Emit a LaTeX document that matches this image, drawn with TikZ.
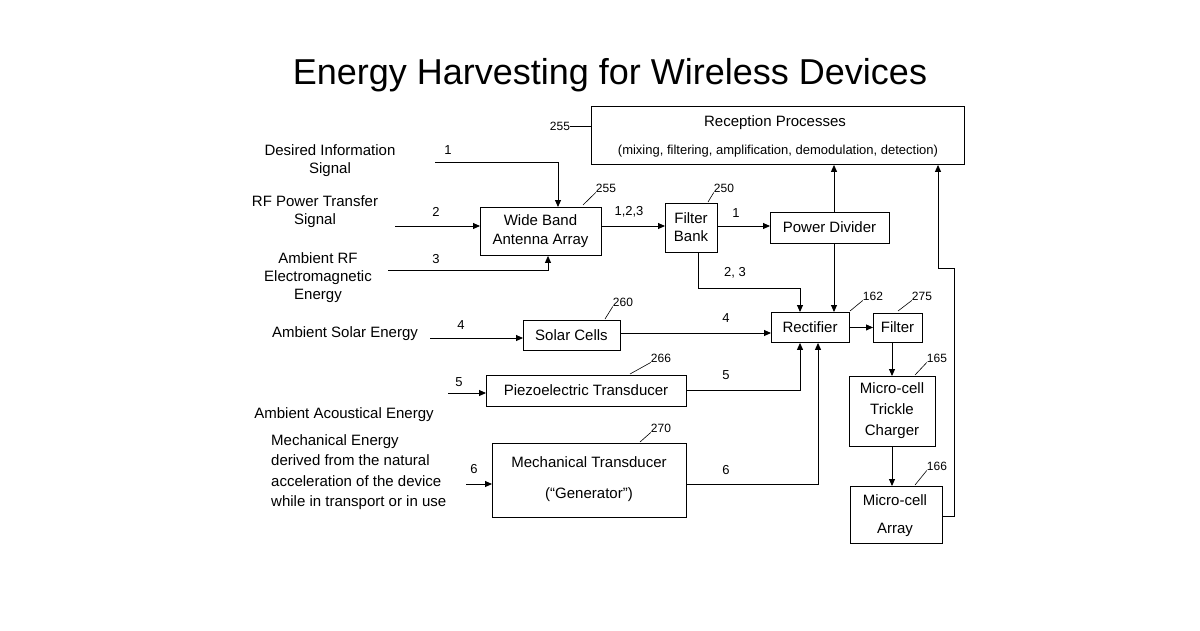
\documentclass[tikz,border=0pt]{standalone}
\usepackage{fontspec}
\setmainfont{Liberation Sans}
\usetikzlibrary{arrows.meta}
\begin{document}
\begin{tikzpicture}[x=1pt,y=-1pt,
  box/.style={draw,line width=0.9pt,inner sep=0pt,anchor=north west},
  lbl/.style={font=\fontsize{15}{18}\selectfont,align=center,inner sep=0pt},
  num/.style={font=\fontsize{13}{15}\selectfont,inner sep=0pt},
  arr/.style={line width=0.9pt,-{Triangle[length=7pt,width=6pt]}},
  ln/.style={line width=0.9pt},
  ld/.style={line width=0.6pt}]
\useasboundingbox (0,0) rectangle (1200,630);
\node[font=\fontsize{36}{40}\selectfont,inner sep=0pt] (title) at (610,75) {Energy Harvesting for Wireless Devices};
% boxes
\node[box,minimum width=373pt,minimum height=58pt] (rec) at (591,106) {};
\node[lbl] at (775,123) {Reception Processes};
\node[font=\fontsize{13}{15}\selectfont,inner sep=0pt] at (778,151) {(mixing, filtering, amplification, demodulation, detection)};
\node[box,minimum width=121pt,minimum height=48pt] (ant) at (480,207) {};
\node[lbl,font=\fontsize{15}{19}\selectfont] at (540.5,231) {Wide Band\\Antenna Array};
\node[box,minimum width=52pt,minimum height=49pt] (fb) at (665,203) {};
\node[lbl] at (691,227.5) {Filter\\Bank};
\node[box,minimum width=119pt,minimum height=31pt] (pd) at (770,212) {};
\node[lbl] at (829.5,227.5) {Power Divider};
\node[box,minimum width=78pt,minimum height=30pt] (rect) at (771,312) {};
\node[lbl] at (810,327) {Rectifier};
\node[box,minimum width=49pt,minimum height=29pt] (flt) at (873,313) {};
\node[lbl] at (897.5,327.5) {Filter};
\node[box,minimum width=86pt,minimum height=70pt] (tc) at (849,376) {};
\node[lbl,font=\fontsize{15}{21}\selectfont] at (892,411) {Micro-cell\\Trickle\\Charger};
\node[box,minimum width=92pt,minimum height=57pt] (ma) at (850,486) {};
\node[lbl] at (895,500) {Micro-cell};
\node[lbl] at (895,530) {Array};
\node[box,minimum width=97pt,minimum height=30pt] (sc) at (523,320) {};
\node[lbl] at (571.5,335) {Solar Cells};
\node[box,minimum width=200pt,minimum height=31pt] (pz) at (486,375) {};
\node[lbl] at (586,390.5) {Piezoelectric Transducer};
\node[box,minimum width=194pt,minimum height=74pt] (mt) at (492,443) {};
\node[lbl] at (589,462) {Mechanical Transducer};
\node[lbl] at (589,495) {(“Generator”)};
% left labels
\node[lbl] (l1) at (330,161) {Desired Information\\Signal};
\node[lbl] (l2) at (315,212) {RF Power Transfer\\Signal};
\node[lbl] (l3) at (318,278) {Ambient RF\\Electromagnetic\\Energy};
\node[lbl] (l4) at (345,334) {Ambient Solar Energy};
\node[lbl] (l5) at (344,415) {Ambient Acoustical Energy};
\node[lbl,align=left,anchor=west,font=\fontsize{15}{20.5}\selectfont] (l6) at (271,472) {Mechanical Energy\\derived from the natural\\acceleration of the device\\while in transport or in use};
% coordinates
\coordinate (s1) at (435,162);
\coordinate (s2) at (395,226);
\coordinate (s3) at (388,270);
\coordinate (s4) at (430,338);
\coordinate (s5) at (448,393);
\coordinate (s6) at (466,484);
% connectors
\draw[arr] (s1) -| (ant.north west -| 558,0);
\draw[arr] (s2) -- (s2 -| ant.west);
\draw[arr] (s3) -| (ant.south west -| 548,0);
\draw[arr] (ant.east |- 0,226) -- (fb.west |- 0,226);
\draw[arr] (fb.east |- 0,226) -- (pd.west |- 0,226);
\draw[arr] (pd.north -| 834,0) -- (rec.south -| 834,0);
\draw[arr] (pd.south -| 834,0) -- (rect.north -| 834,0);
\draw[arr] (fb.south -| 698,0) |- (800,288) -- (rect.north -| 800,0);
\draw[arr] (rect.east) -- (flt.west |- rect.east);
\draw[arr] (flt.south -| 892,0) -- (tc.north -| 892,0);
\draw[arr] (tc.south -| 892,0) -- (ma.north -| 892,0);
\draw[arr] (ma.east |- 0,516) -- (954,516) -- (954,268) -- (938,268) -- (rec.south -| 938,0);
\draw[arr] (s4) -- (s4 -| sc.west);
\draw[arr] (sc.east |- 0,333) -- (rect.west |- 0,333);
\draw[arr] (s5) -- (s5 -| pz.west);
\draw[arr] (pz.east |- 0,390) -| (rect.south -| 800,0);
\draw[arr] (s6) -- (s6 -| mt.west);
\draw[arr] (mt.east |- 0,484) -| (rect.south -| 818,0);
% numbers
\node[num] at (448,150) {1};
\node[num] at (436,212) {2};
\node[num] at (436,259) {3};
\node[num] at (461,325) {4};
\node[num] at (459,382) {5};
\node[num] at (474,469) {6};
\node[num] at (629,212) {1,2,3};
\node[num] at (736,213) {1};
\node[num] at (735,273) {2, 3};
\node[num] at (726,318) {4};
\node[num] at (726,375) {5};
\node[num] at (726,470) {6};
% reference numerals
\node[num,font=\fontsize{12}{14}\selectfont] (r255a) at (560,126) {255};
\draw[ld] (r255a.east) -- (rec.west |- r255a.east);
\node[num,font=\fontsize{12}{14}\selectfont] (r255b) at (606,188) {255};
\draw[ld] (583,205) -- (r255b.south west);
\node[num,font=\fontsize{12}{14}\selectfont] (r250) at (724,188) {250};
\draw[ld] (708,202) -- (r250.south west);
\node[num,font=\fontsize{12}{14}\selectfont] (r162) at (873,296) {162};
\draw[ld] (850,311) -- (r162.south west);
\node[num,font=\fontsize{12}{14}\selectfont] (r275) at (922,296) {275};
\draw[ld] (898,311) -- (r275.south west);
\node[num,font=\fontsize{12}{14}\selectfont] (r165) at (937,358) {165};
\draw[ld] (915,375) -- (r165.south west);
\node[num,font=\fontsize{12}{14}\selectfont] (r166) at (937,466) {166};
\draw[ld] (915,485) -- (r166.south west);
\node[num,font=\fontsize{12}{14}\selectfont] (r260) at (623,302) {260};
\draw[ld] (605,319) -- (r260.south west);
\node[num,font=\fontsize{12}{14}\selectfont] (r266) at (661,358) {266};
\draw[ld] (630,374) -- (r266.south west);
\node[num,font=\fontsize{12}{14}\selectfont] (r270) at (661,428) {270};
\draw[ld] (640,442) -- (r270.south west);
\end{tikzpicture}
\end{document}
